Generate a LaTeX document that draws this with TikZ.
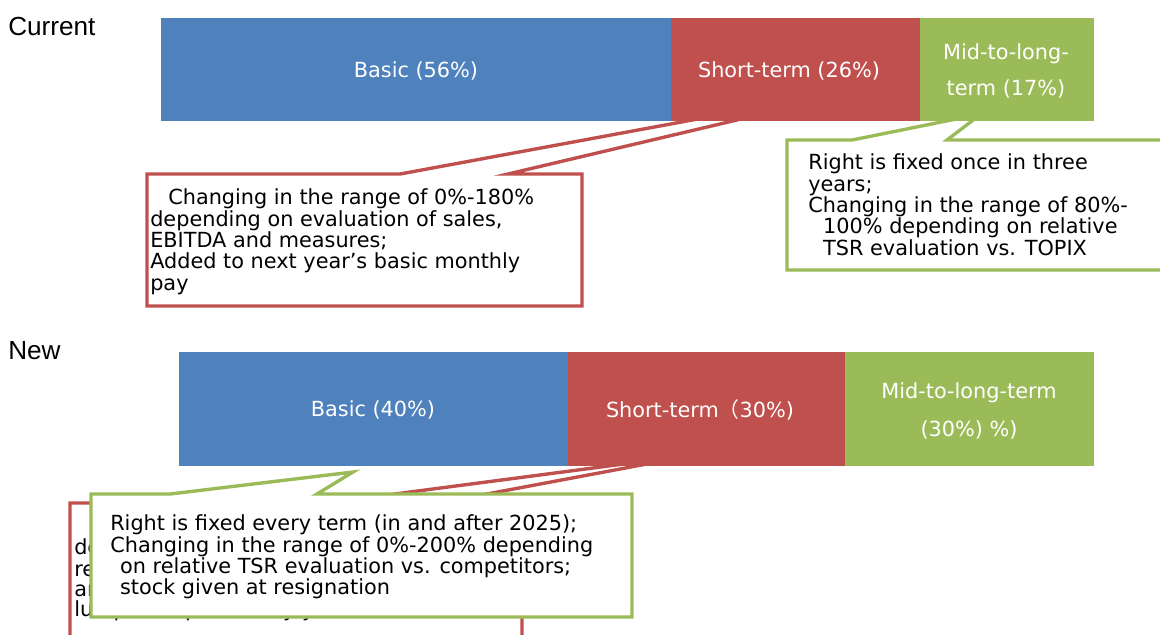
\documentclass[tikz,border=0pt]{standalone}
\usepackage{fontspec}
\setmainfont{DejaVu Sans}
\newfontfamily\headfont{Liberation Sans}
\newfontfamily\cjk{Noto Sans CJK JP}
\usetikzlibrary{calc}
\definecolor{barblue}{HTML}{4F81BD}
\definecolor{barred}{HTML}{C0504D}
\definecolor{bargreen}{HTML}{9BBB59}
\def\calloutbox[#1](#2,#3)(#4,#5)(#6:#7)(#8){\draw[#1] (#2,#3) -- (#6,#3) -- (#8) -- (#7,#3) -- (#4,#3) -- (#4,#5) -- (#2,#5) -- cycle;}
\tikzset{
	boxtext/.style={anchor=north west, align=left, inner sep=0pt, font=\fontsize{14.8}{15.2}\selectfont},
	barlabel/.style={text=white, align=center, inner sep=0pt, font=\fontsize{14.8}{15.2}\selectfont},
	headlabel/.style={anchor=west, inner sep=0pt, font=\headfont\fontsize{18.6}{20}\selectfont},
}

\begin{document}
\begin{tikzpicture}[x=0.025cm, y=-0.025cm]
		%%%%% START %%%%%
		\useasboundingbox (0,0) rectangle (1160,634);
		\clip (0,0) rectangle (1160,634);
		
		\node[headlabel] (curHead) at (8,26) {Current};
		\node[headlabel] (newHead) at (8,351) {New};
		
		% callouts of the current plan
		\coordinate (curRedTip) at (898,82);
		\calloutbox[line width=2.4pt, draw=barred, fill=white](147,174)(582,306)(400:508)(curRedTip);
		\node[boxtext] (curRedText) at (150,188.6) {\hspace{12.8pt}Changing in the range of 0\%-180\%\\depending on evaluation of sales,\\EBITDA and measures;\\Added to next year’s basic monthly\\pay};
		
		\coordinate (curGreenTip) at (981,114);
		\calloutbox[line width=2.4pt, draw=bargreen, fill=white](787,140)(1175,270)(852:947)(curGreenTip);
		\node[boxtext] (curGreenText) at (808,153.6) {Right is fixed once in three\\years;\\Changing in the range of 80\%-\\\hspace{10.6pt}100\% depending on relative\\\hspace{10.6pt}TSR evaluation vs. TOPIX};
		
		% current bar
		\fill[barblue] (161,18) rectangle (671,121);
		\fill[barred] (671,18) rectangle (920,121);
		\fill[bargreen] (920,18) rectangle (1094,121);
		\node[barlabel] (curBasic) at (416,71) {Basic (56\%)};
		\node[barlabel] (curShort) at (789,71) {Short-term (26\%)};
		\node[barlabel, font=\fontsize{14.8}{25.5}\selectfont] (curMid) at (1006,71) {Mid-to-long-\\term (17\%)};
		
		% callouts of the new plan
		\coordinate (newRedTip) at (700,454);
		\calloutbox[line width=2.4pt, draw=barred, fill=white](70,503)(522,660)(326:439)(newRedTip);
		\node[boxtext, font=\fontsize{14.8}{14.2}\selectfont] (newRedText) at (74,517) {\hspace{12.8pt}Changing in the range of 0\%-200\%\\depending on evaluation\\results and measures;\\annual bonus,\\lump-sum paid every year};
		
		\coordinate (newGreenTip) at (353,472);
		\calloutbox[line width=2.4pt, draw=bargreen, fill=white](91,494)(632,617)(170:317)(newGreenTip);
		\node[boxtext] (newGreenText) at (110,514.6) {Right is fixed every term (in and after 2025);\\Changing in the range of 0\%-200\% depending\\\hspace{7pt}on relative TSR evaluation vs. competitors;\\\hspace{7pt}stock given at resignation};
		
		% new bar
		\fill[barblue] (179,352) rectangle (568,466);
		\fill[barred] (568,352) rectangle (845,466);
		\fill[bargreen] (845,352) rectangle (1094,466);
		\node[barlabel] (newBasic) at (373,410) {Basic (40\%)};
		\node[barlabel] (newShort) at (700,410) {Short-term{\cjk （}30\%)};
		\node[barlabel, font=\fontsize{14.8}{26.9}\selectfont] (newMid) at (969,411) {Mid-to-long-term\\(30\%) \%)};
		%%%%% END %%%%%
	\end{tikzpicture}
\end{document}
